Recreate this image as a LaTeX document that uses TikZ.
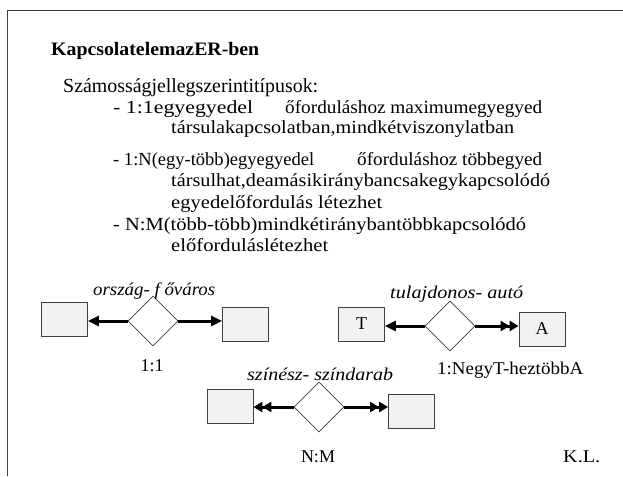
\documentclass[tikz,border=0pt]{standalone}
\usepackage{fontspec}
\setmainfont{Liberation Serif}
\usetikzlibrary{arrows.meta,shapes.geometric}
% set a line of text to a given width (in pt), keeping its height
\newcommand{\fitw}[2]{\resizebox{#1pt}{\height}{#2}}
\begin{document}
\begin{tikzpicture}[x=1pt,y=-1pt,
  body/.style={anchor=base west,inner sep=0pt,font=\fontsize{18.5}{22}\selectfont},
  lbl/.style={anchor=base,inner sep=0pt,font=\fontsize{18}{21}\selectfont},
  rel/.style={anchor=base west,inner sep=0pt,font=\fontsize{18}{21}\selectfont\itshape},
  entity/.style={draw=black!75,fill=black!5,line width=0.8pt,minimum width=46pt,minimum height=34pt,inner sep=0pt,font=\fontsize{18}{21}\selectfont},
  relship/.style={diamond,draw=black!75,fill=white,line width=0.8pt,minimum width=50pt,minimum height=50pt,inner sep=0pt},
  link/.style={line width=3pt},
  one/.style={-{Triangle[length=11pt,width=10pt]}},
  many/.style={-{Triangle[length=9pt,width=10pt]Triangle[length=9pt,width=10pt]}},
  frame/.style={draw=black!75,line width=1.6pt}]
\useasboundingbox (0,0) rectangle (623,476);
% page frame: top and left edges only
\draw[frame] (623,10.5) -- (7.5,10.5) -- (7.5,476);

% heading and bullet text
\node[body,font=\fontsize{19}{22}\selectfont\bfseries] (title) at (51,55.5) {\fitw{208}{KapcsolatelemazER-ben}};
\node[body,font=\fontsize{20}{24}\selectfont] (intro) at (63,92.3) {\fitw{255}{Számosságjellegszerintitípusok:}};
\node[body] (l1a) at (113,113.3) {\fitw{140}{- 1:1egyegyedel}};
\node[body] (l1b) at (285,113.3) {\fitw{257}{őforduláshoz maximumegyegyed}};
\node[body] (l2) at (171,133) {\fitw{343}{társulakapcsolatban,mindkétviszonylatban}};
\node[body] (l3a) at (113,165) {\fitw{201}{- 1:N(egy-több)egyegyedel}};
\node[body] (l3b) at (357,165) {\fitw{185}{őforduláshoz többegyed}};
\node[body] (l4) at (171,186.7) {\fitw{379}{társulhat,deamásikiránybancsakegykapcsolódó}};
\node[body] (l5) at (171,208.3) {\fitw{211}{egyedelőfordulás létezhet}};
\node[body] (l6) at (113,230) {\fitw{413}{- N:M(több-több)mindkétiránybantöbbkapcsolódó}};
\node[body] (l7) at (171,251.7) {\fitw{157}{előfordulás{}létezhet}};

% 1:1 relationship
\node[entity] (a1) at (64.5,319) {};
\node[relship] (r1) at (153,321) {};
\node[entity] (b1) at (245.5,324) {};
\node[rel] (r1name) at (93,295) {\fitw{122}{ország- f őváros}};
\node[lbl] (r1card) at (152,371) {1:1};
\draw[link,one] (r1.west) -- (r1.west -| a1.east);
\draw[link,one] (r1.east) -- (r1.east -| b1.west);

% 1:N relationship
\node[entity] (a2) at (361.5,324) {T};
\node[relship] (r2) at (450,326) {};
\node[entity] (b2) at (542,329) {A};
\node[rel] (r2name) at (390,298) {\fitw{133}{tulajdonos- autó}};
\node[body,font=\fontsize{18}{21}\selectfont] (r2card) at (437,374) {\fitw{146}{1:NegyT-heztöbbA}};
\draw[link,one] (r2.west) -- (r2.west -| a2.east);
\draw[link,many] (r2.east) -- (r2.east -| b2.west);

% N:M relationship
\node[entity] (a3) at (230,406.5) {};
\node[relship] (r3) at (319,407) {};
\node[entity] (b3) at (411.5,411.5) {};
\node[rel] (r3name) at (247,380) {\fitw{146}{színész- színdarab}};
\node[lbl] (r3card) at (318,462) {N:M};
\draw[link,many] (r3.west) -- (r3.west -| a3.east);
\draw[link,many] (r3.east) -- (r3.east -| b3.west);

\node[body,font=\fontsize{18}{21}\selectfont] (author) at (563,462) {\fitw{37}{K.L.}};
\end{tikzpicture}
\end{document}
